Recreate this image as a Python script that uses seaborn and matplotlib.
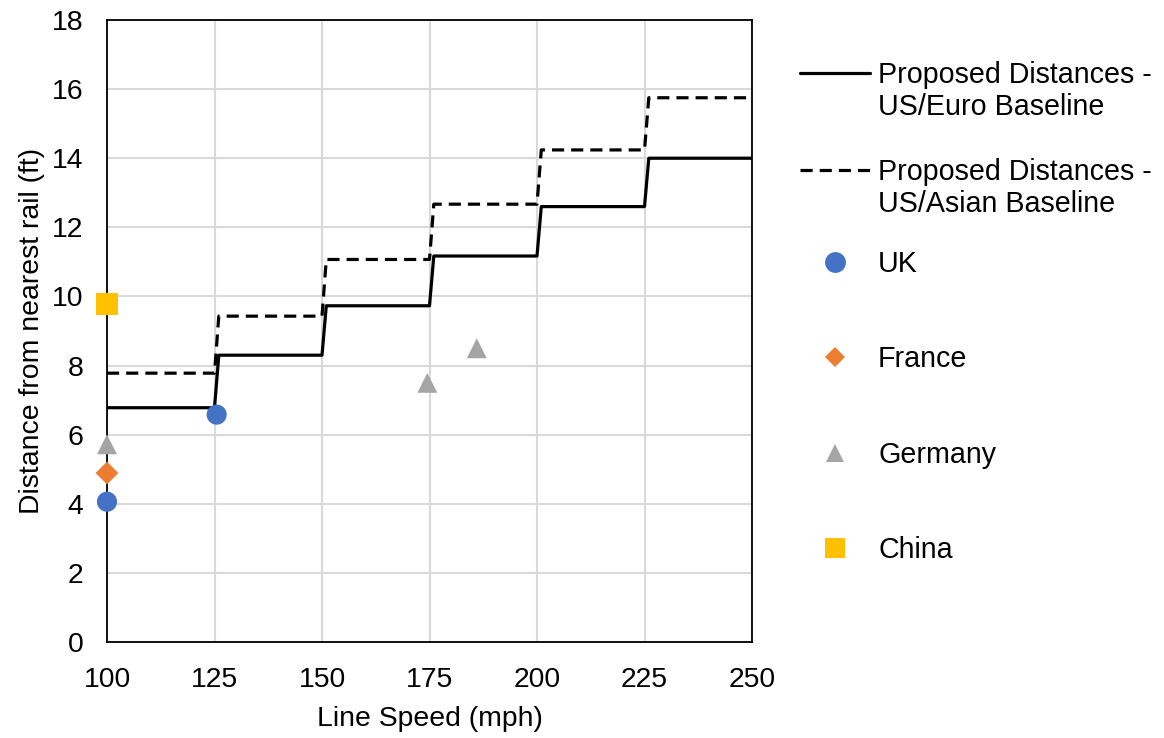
import pandas as pd
import matplotlib.pyplot as plt
import seaborn as sns
from matplotlib.lines import Line2D

# Proposed clearance steps (mph vs ft)
step_speed = [100, 125, 126, 150, 151, 175, 176, 200, 201, 225, 226, 250]
euro_dist = [6.78, 6.78, 8.3, 8.3, 9.73, 9.73, 11.17, 11.17, 12.6, 12.6, 14.0, 14.0]
asian_dist = [7.78, 7.78, 9.43, 9.43, 11.07, 11.07, 12.67, 12.67, 14.24, 14.24, 15.75, 15.75]

# Existing national standards
countries = ["UK", "UK", "France", "Germany", "Germany", "Germany", "China"]
country_speed = [100, 125.5, 100, 100, 174.5, 186, 100]
country_dist = [4.06, 6.58, 4.89, 5.72, 7.5, 8.5, 9.78]

country_order = ["UK", "France", "Germany", "China"]
country_colors = {"UK": "#4472C4", "France": "#ED7D31", "Germany": "#A5A5A5", "China": "#FFC000"}
country_markers = {"UK": "o", "France": "D", "Germany": "^", "China": "s"}
country_sizes = {"UK": 210, "France": 135, "Germany": 205, "China": 250}

sns.set_style("white")
plt.rcParams['font.family'] = ['Liberation Sans', 'DejaVu Sans']
plt.rcParams['text.color'] = 'black'
plt.rcParams['axes.labelcolor'] = 'black'
plt.rcParams['xtick.color'] = 'black'
plt.rcParams['ytick.color'] = 'black'
FS = 20.4
LFS = 20.6

df = pd.DataFrame({"Country": countries, "Speed": country_speed, "Distance": country_dist})

fig = plt.figure(figsize=(11.64, 7.38), dpi=100)
ax = fig.add_axes([107 / 1164, 96 / 738, 645 / 1164, 622 / 738])

sns.lineplot(x=step_speed, y=euro_dist, color="black", linewidth=2.3, ax=ax)
dashed = sns.lineplot(x=step_speed, y=asian_dist, color="black", linewidth=2.3, ax=ax)
dashed.lines[-1].set_dashes((3.8, 2.2))

sns.scatterplot(data=df, x="Speed", y="Distance", hue="Country", style="Country",
                size="Country", hue_order=country_order, palette=country_colors,
                markers=country_markers, sizes=country_sizes, linewidth=0,
                legend=False, clip_on=False, zorder=5, ax=ax)

ax.set_xlim(100, 250)
ax.set_ylim(0, 18)
ax.set_xticks(range(100, 251, 25))
ax.set_yticks(range(0, 19, 2))
ax.grid(True, color="#D9D9D9", linewidth=1.5)
ax.set_axisbelow(True)
for sp in ax.spines.values():
    sp.set_color("black")
    sp.set_linewidth(1.3)
ax.tick_params(axis="y", length=7, width=1.3, direction="out", pad=10, labelsize=FS)
ax.tick_params(axis="x", length=0, pad=18, labelsize=FS)
ax.set_xlabel("Line Speed (mph)", fontsize=FS, labelpad=9)
ax.set_ylabel("Distance from nearest rail (ft)", fontsize=FS, labelpad=5)

blank = Line2D([], [], linestyle="none")
leg_kw = dict(frameon=False, fontsize=LFS, borderpad=0, borderaxespad=0,
              handlelength=2.45, handletextpad=0.28, loc="center left")

solid_h = Line2D([], [], color="black", linewidth=2.3)
fig.legend([solid_h, blank], ["Proposed Distances -", "US/Euro Baseline"],
           labelspacing=0.17, bbox_to_anchor=(800 / 1164, 1 - 91 / 738), **leg_kw)
dash_h = Line2D([], [], color="black", linewidth=2.3, dashes=(3.8, 2.2))
fig.legend([dash_h, blank], ["Proposed Distances -", "US/Asian Baseline"],
           labelspacing=0.17, bbox_to_anchor=(800 / 1164, 1 - 188 / 738), **leg_kw)
marker_ms = {"UK": 15, "France": 10.5, "Germany": 12.5, "China": 14}
marker_h = [Line2D([], [], linestyle="none", marker=country_markers[c], color=country_colors[c],
                   markeredgewidth=0, markersize=marker_ms[c]) for c in country_order]
fig.legend(marker_h, country_order, labelspacing=2.35,
           bbox_to_anchor=(800 / 1164, 1 - 407 / 738), **leg_kw)

fig.savefig("out.png", dpi=100)
